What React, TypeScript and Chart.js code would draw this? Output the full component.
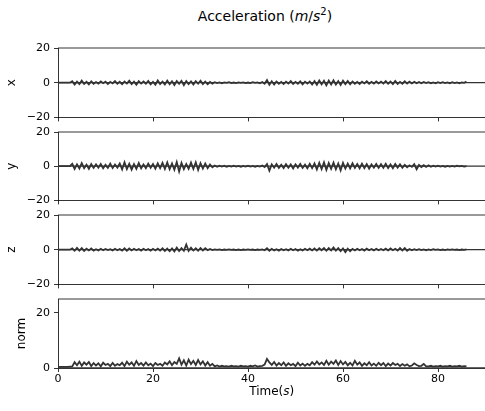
import React, { useEffect, useRef } from 'react';
import { Chart, registerables } from 'chart.js';

Chart.register(...registerables);
Chart.defaults.font.family = "'DejaVu Sans', sans-serif";

// Sample times (s)
const time = [
  0, 0.5, 1, 1.5, 2, 2.5,
  3, 3.5, 4, 4.5, 5, 5.5, 6, 6.5, 7, 7.5,
  8, 8.5, 9, 9.5, 10, 10.5, 11, 11.5, 12, 12.5,
  13, 13.5, 14, 14.5, 15, 15.5, 16, 16.5, 17, 17.5,
  18, 18.5, 19, 19.5, 20, 20.5, 21, 21.5, 22, 22.5,
  23, 23.5, 24, 24.5, 25, 25.5, 26, 26.5, 27, 27.5,
  28, 28.5, 29, 29.5, 30, 30.5, 31, 31.5, 32, 32.5,
  33, 33.5, 34, 34.5, 35, 35.5, 36, 36.5, 37, 37.5,
  38, 38.5, 39, 39.5, 40, 40.5, 41, 41.5, 42, 42.5,
  43, 43.5, 44, 44.5, 45, 45.5, 46, 46.5, 47, 47.5,
  48, 48.5, 49, 49.5, 50, 50.5, 51, 51.5, 52, 52.5,
  53, 53.5, 54, 54.5, 55, 55.5, 56, 56.5, 57, 57.5,
  58, 58.5, 59, 59.5, 60, 60.5, 61, 61.5, 62, 62.5,
  63, 63.5, 64, 64.5, 65, 65.5, 66, 66.5, 67, 67.5,
  68, 68.5, 69, 69.5, 70, 70.5, 71, 71.5, 72, 72.5,
  73, 73.5, 74, 74.5, 75, 75.5, 76, 76.5, 77, 77.5,
  78, 78.5, 79, 79.5, 80, 80.5, 81, 81.5, 82, 82.5,
  83, 83.5, 84, 84.5, 85, 85.5, 86,
];

const accX = [
  0, 0, 0, 0, 0, 0,
  0.9, -1.1, 0.6, -0.8, 1.2, -0.7, 0.5, -1.0, 0.8, -0.6,
  0.4, -0.5, 0.7, -0.3, 0.6, -0.8, 0.5, -0.4, 0.9, -0.6,
  0.5, -0.9, 0.7, -0.5, 1.1, -0.8, 0.6, -1.2, 0.9, -0.5,
  0.7, -0.6, 1.0, -0.9, 0.5, -1.1, 1.3, -0.8, 0.6, -1.0,
  1.2, -0.9, 0.8, -1.3, 1.0, -0.7, 1.1, -1.4, 0.9, -0.8,
  0.7, -1.0, 0.9, -0.6, 1.1, -0.8, 0.6, -0.9, 0.4, -0.5,
  0.3, -0.2, 0.2, -0.3, 0.2, -0.1, 0.3, -0.2, 0.1, -0.2,
  0.2, -0.1, 0.2, -0.2, 0.1, -0.2, 0.3, -0.1, 0.2, -0.3,
  0.4, -0.6, 1.5, -1.2, 0.8, -1.0, 0.7, -0.6, 0.5, -0.8,
  0.6, -0.5, 0.9, -0.7, 0.5, -0.6, 0.8, -0.9, 0.6, -0.5,
  0.7, -1.0, 0.9, -1.2, 1.3, -0.9, 1.1, -1.5, 1.2, -1.0,
  1.4, -1.1, 0.9, -1.3, 1.2, -0.8, 1.0, -0.9, 0.7, -0.6,
  0.5, -0.7, 0.6, -0.4, 0.8, -0.6, 0.5, -0.5, 0.7, -0.4,
  0.6, -0.5, 0.9, -0.6, 0.7, -0.8, 1.0, -0.7, 0.5, -0.6,
  0.8, -0.5, 0.6, -0.4, 0.5, -0.3, 0.4, -0.3, 0.4, -0.2,
  0.3, -0.3, 0.2, -0.3, 0.3, -0.2, 0.3, -0.2, 0.2, -0.3,
  0.3, -0.2, 0.2, -0.3, 0.2, -0.1, 0.6,
];

const accY = [
  0, 0, 0, 0, 0, 0,
  1.4, -1.6, 1.1, -1.3, 1.8, -1.2, 0.9, -1.5, 1.2, -1.0,
  1.1, -0.9, 1.3, -1.2, 0.8, -1.0, 1.5, -1.1, 1.0, -0.8,
  1.6, -1.9, 2.3, -1.7, 1.4, -2.0, 1.2, -1.5, 1.8, -1.3,
  1.0, -1.2, 1.5, -0.9, 1.3, -1.4, 1.7, -1.1, 2.0, -1.6,
  2.2, -1.8, 1.6, -2.1, 2.4, -3.1, 1.9, -1.7, 1.3, -1.5,
  2.1, -1.6, 2.3, -2.2, 1.8, -1.4, 1.6, -1.2, 1.0, -0.6,
  0.4, -0.3, 0.3, -0.2, 0.3, -0.3, 0.2, -0.2, 0.3, -0.2,
  0.2, -0.3, 0.2, -0.2, 0.3, -0.2, 0.2, -0.3, 0.2, -0.2,
  0.4, -0.5, 1.2, -2.6, 1.1, -0.9, 1.3, -1.0, 0.8, -1.1,
  1.2, -0.9, 1.0, -1.3, 1.1, -0.8, 1.3, -1.0, 0.9, -1.2,
  1.4, -1.1, 1.6, -1.9, 2.0, -1.7, 2.3, -2.2, 1.8, -1.5,
  2.1, -1.8, 1.6, -2.4, 1.9, -1.4, 1.5, -1.3, 1.7, -1.0,
  1.3, -1.2, 1.5, -1.1, 1.2, -1.4, 1.0, -0.9, 1.3, -1.0,
  1.2, -0.9, 1.4, -1.1, 1.0, -1.2, 1.3, -0.8, 1.1, -0.9,
  0.8, -0.6, 0.5, -0.4, 1.2, -1.8, 0.7, -0.5, 0.6, -0.4,
  0.5, -0.3, 0.3, -0.2, 0.3, -0.2, 0.2, -0.3, 0.2, -0.2,
  0.2, -0.2, 0.3, -0.1, 0.2, -0.2, 0.1,
];

const accZ = [
  0, 0, 0, 0, 0, 0,
  0.8, -0.6, 1.0, -0.5, 0.9, -0.7, 0.6, -0.4, 0.7, -0.5,
  0.3, -0.4, 0.5, -0.3, 0.4, -0.2, 0.3, -0.4, 0.5, -0.3,
  0.4, -0.5, 0.8, -0.6, 0.7, -0.4, 0.5, -0.3, 0.4, -0.5,
  0.5, -0.3, 0.4, -0.6, 0.5, -0.4, 0.6, -0.5, 0.8, -0.7,
  0.6, -0.9, 0.7, -1.0, 1.2, -0.8, 0.9, -0.6, 3.0, -0.7,
  1.1, -0.5, 0.8, -0.6, 1.0, -0.4, 0.9, -0.3, 0.4, -0.2,
  0.2, -0.1, 0.2, -0.2, 0.1, -0.1, 0.2, -0.1, 0.1, -0.2,
  0.1, -0.2, 0.1, -0.1, 0.2, -0.1, 0.1, -0.2, 0.1, -0.1,
  0.2, -0.3, 0.8, -0.6, 0.5, -0.4, 0.3, -0.5, 0.4, -0.3,
  0.3, -0.4, 0.5, -0.3, 0.4, -0.6, 0.3, -0.4, 0.5, -0.3,
  0.6, -0.4, 0.7, -0.5, 0.8, -0.3, 1.0, -0.6, 0.9, -0.4,
  1.3, -0.5, 0.9, -0.8, 0.7, -1.4, 0.6, -0.9, 0.5, -0.4,
  0.5, -0.3, 0.4, -0.5, 0.6, -0.3, 0.4, -0.4, 0.5, -0.3,
  0.4, -0.3, 0.6, -0.4, 0.7, -0.3, 0.5, -0.5, 1.0, -0.4,
  0.9, -0.6, 0.4, -0.3, 0.3, -0.2, 0.3, -0.2, 0.2, -0.3,
  0.2, -0.2, 0.3, -0.1, 0.2, -0.2, 0.1, -0.2, 0.2, -0.1,
  0.2, -0.1, 0.1, -0.2, 0.1, -0.1, 0.2,
];

const accNorm = [
  0.4, 0.4, 0.4, 0.4, 0.4, 0.5,
  0.6, 2.1, 1.0, 2.3, 0.8, 2.0, 1.2, 2.2, 0.7, 1.8,
  0.9, 1.7, 0.6, 1.9, 1.1, 1.5, 0.7, 1.8, 0.8, 1.4,
  1.0, 1.9, 0.7, 2.3, 1.2, 2.0, 0.8, 2.5, 1.1, 1.8,
  0.9, 2.0, 1.0, 1.6, 0.7, 1.8, 1.1, 1.5, 0.8, 2.0,
  1.3, 2.4, 1.0, 2.2, 1.5, 3.5, 1.2, 2.8, 0.9, 3.0,
  1.4, 2.6, 1.1, 2.9, 1.3, 2.4, 0.9, 2.1, 0.8, 1.5,
  0.6, 0.9, 0.5, 0.8, 0.6, 0.7, 0.5, 0.8, 0.6, 0.7,
  0.5, 0.8, 0.6, 0.7, 0.5, 0.8, 0.6, 0.9, 0.5, 0.7,
  0.8, 1.2, 3.3, 2.0, 1.1, 2.2, 0.9, 1.8, 1.0, 2.0,
  0.8, 1.7, 1.0, 1.5, 0.7, 1.9, 0.9, 1.6, 0.8, 1.5,
  1.0, 2.1, 1.2, 2.4, 1.3, 2.0, 1.1, 2.6, 1.2, 2.3,
  1.5, 2.7, 1.1, 2.5, 1.3, 2.2, 1.0, 1.9, 0.9, 2.6,
  1.2, 2.0, 0.8, 1.7, 1.0, 2.1, 0.9, 1.6, 0.8, 1.9,
  1.0, 1.8, 0.7, 1.6, 0.9, 1.8, 1.1, 1.5, 0.7, 1.4,
  0.8, 1.3, 0.6, 0.9, 1.7, 1.1, 0.7, 0.8, 1.5, 0.6,
  0.6, 0.8, 0.5, 0.7, 0.6, 0.8, 0.5, 0.7, 0.6, 0.8,
  0.5, 0.7, 0.6, 0.8, 0.5, 0.7, 0.6,
];

const timeTicks = [0, 20, 40, 60, 80];
const xyzTicks = [-20, 0, 20];
const normTicks = [0, 20];
const TIME_MIN = 0;
const TIME_MAX = 90;
const ZERO = 0;

// layout (pixels)
const CANVAS_W = 500;
const AREA_LEFT = 58;
const AREA_RIGHT = 485.5;
const PAD_TOP = 12;

const panels = [
  { label: 'x', values: accX, min: -20, max: 20, ticks: xyzTicks, top: 48, height: 70, bottomH: 10, labelPad: 5, showX: false },
  { label: 'y', values: accY, min: -20, max: 20, ticks: xyzTicks, top: 132, height: 69, bottomH: 10, labelPad: 5, showX: false },
  { label: 'z', values: accZ, min: -20, max: 20, ticks: xyzTicks, top: 215, height: 70, bottomH: 10, labelPad: 5, showX: false },
  { label: 'norm', values: accNorm, min: 0, max: 25, ticks: normTicks, top: 299, height: 69, bottomH: 22, labelPad: 15, showX: true },
];

const fmt = (v: number) => (v < 0 ? '\u2212' + Math.abs(v) : String(v));

const framePlugin = {
  id: 'frame',
  beforeDatasetsDraw(chart: any) {
    const { ctx, chartArea, scales } = chart;
    const y = scales.y.getPixelForValue(ZERO);
    ctx.save();
    ctx.strokeStyle = '#333333';
    ctx.lineWidth = 1.3;
    ctx.beginPath();
    ctx.moveTo(chartArea.left, y);
    ctx.lineTo(chartArea.right, y);
    ctx.stroke();
    ctx.restore();
  },
  afterDraw(chart: any) {
    const { ctx, chartArea } = chart;
    ctx.save();
    ctx.strokeStyle = '#000';
    ctx.lineWidth = 0.8;
    ctx.beginPath();
    ctx.moveTo(chartArea.left, chartArea.top);
    ctx.lineTo(chartArea.right, chartArea.top);
    ctx.stroke();
    ctx.restore();
  },
};

function Panel({ p }: { p: any }) {
  const ref = useRef<HTMLCanvasElement>(null);
  useEffect(() => {
    if (!ref.current) return;
    const gridOpts = {
      display: true,
      drawOnChartArea: false,
      drawTicks: true,
      tickLength: 4,
      color: '#000',
      lineWidth: 0.8,
    };
    const chart = new Chart(ref.current, {
      type: 'line',
      data: {
        datasets: [
          {
            data: time.map((t, i) => ({ x: t, y: p.values[i] })),
            borderColor: '#333333',
            borderWidth: 1.8,
            borderJoinStyle: 'miter',
            pointRadius: 0,
            tension: 0,
          },
        ],
      },
      options: {
        animation: false,
        responsive: false,
        events: [],
        layout: { padding: { top: PAD_TOP, left: 0, right: CANVAS_W - AREA_RIGHT, bottom: 0 } },
        plugins: { legend: { display: false }, tooltip: { enabled: false }, title: { display: false } },
        scales: {
          x: {
            type: 'linear',
            min: TIME_MIN,
            max: TIME_MAX,
            afterBuildTicks: (s: any) => {
              s.ticks = timeTicks.map((v) => ({ value: v }));
            },
            afterFit: (s: any) => {
              s.height = p.bottomH;
            },
            grid: gridOpts,
            border: { display: true, color: '#000', width: 0.8 },
            ticks: {
              display: p.showX,
              color: '#000',
              font: { size: 11 },
              padding: 1,
              maxRotation: 0,
              autoSkip: false,
              callback: (v: any) => fmt(Number(v)),
            },
          },
          y: {
            type: 'linear',
            min: p.min,
            max: p.max,
            afterBuildTicks: (s: any) => {
              s.ticks = p.ticks.map((v: number) => ({ value: v }));
            },
            afterFit: (s: any) => {
              s.width = AREA_LEFT;
            },
            title: {
              display: true,
              text: p.label,
              color: '#000',
              font: { size: 12 },
              padding: { top: p.labelPad, bottom: 0 },
            },
            grid: gridOpts,
            border: { display: true, color: '#000', width: 0.8 },
            ticks: {
              color: '#000',
              font: { size: 11 },
              padding: 4,
              autoSkip: false,
              callback: (v: any) => fmt(Number(v)),
            },
          },
        },
      } as any,
      plugins: [framePlugin],
    });
    return () => chart.destroy();
  }, [p]);
  return (
    <canvas
      ref={ref}
      width={CANVAS_W}
      height={PAD_TOP + p.height + p.bottomH}
      style={{ position: 'absolute', left: 0, top: p.top - PAD_TOP, width: CANVAS_W, height: PAD_TOP + p.height + p.bottomH }}
    />
  );
}

export default function App() {
  return (
    <div
      style={{
        position: 'absolute',
        left: 0,
        top: 0,
        width: 485,
        height: 411,
        overflow: 'hidden',
        background: '#fff',
        fontFamily: "'DejaVu Sans', sans-serif",
        color: '#000',
      }}
    >
      <div
        style={{
          position: 'absolute',
          left: 0,
          top: 7,
          width: 530,
          textAlign: 'center',
          fontSize: 14,
          lineHeight: '18px',
          whiteSpace: 'nowrap',
        }}
      >
        Acceleration (<i>m</i>/<i>s</i>
        <sup style={{ fontSize: 10, lineHeight: 0 }}>2</sup>)
      </div>
      {panels.map((p) => (
        <Panel key={p.label} p={p} />
      ))}
      <div
        style={{
          position: 'absolute',
          left: AREA_LEFT,
          width: AREA_RIGHT - AREA_LEFT,
          top: 383,
          textAlign: 'center',
          fontSize: 12,
          lineHeight: '16px',
          whiteSpace: 'nowrap',
        }}
      >
        Time(<i>s</i>)
      </div>
    </div>
  );
}
